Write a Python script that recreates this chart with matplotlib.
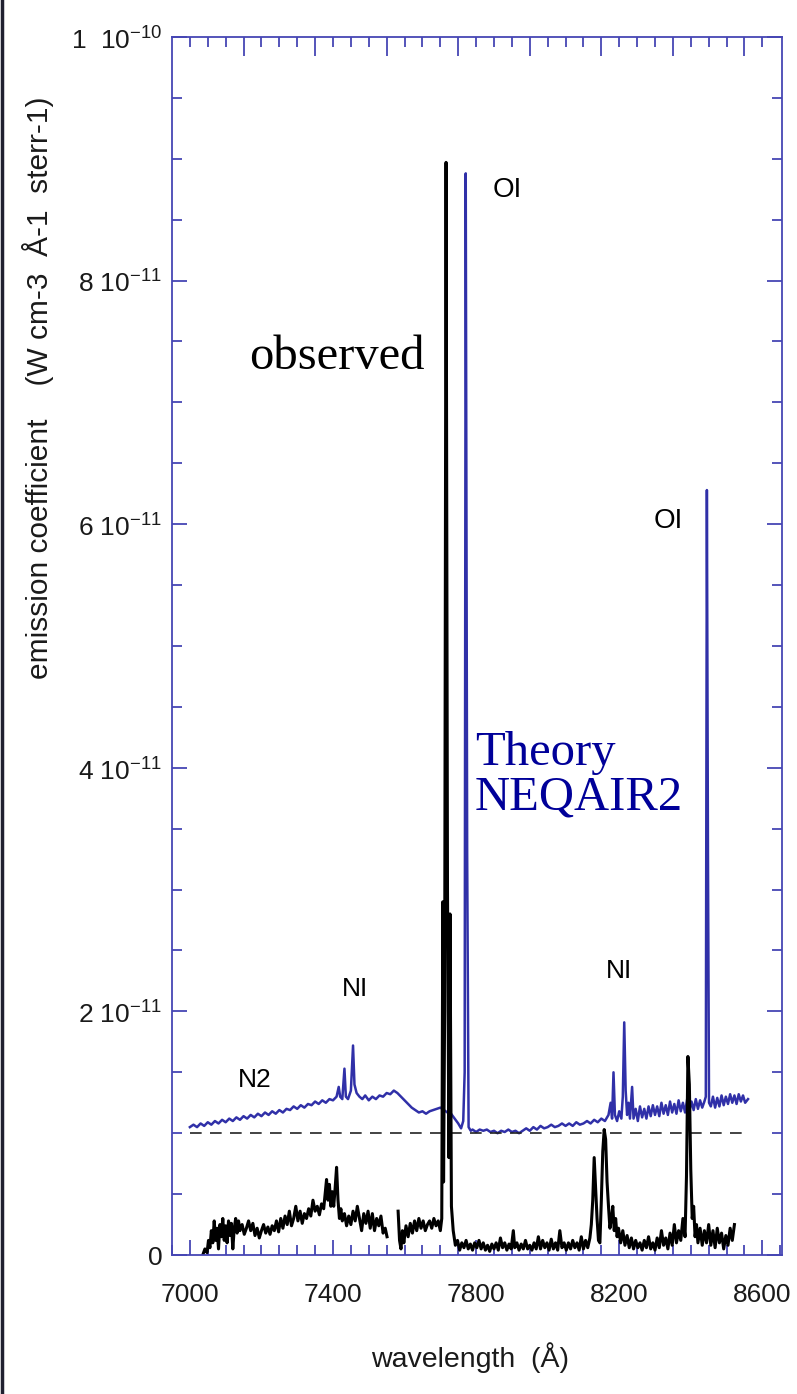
import numpy as np
import matplotlib
matplotlib.use("Agg")
import matplotlib.pyplot as plt
from matplotlib.lines import Line2D
from matplotlib.ticker import MultipleLocator, FixedLocator

plt.rcParams['font.family'] = ['Liberation Sans', 'DejaVu Sans']
plt.rcParams['mathtext.fontset'] = 'custom'
plt.rcParams['mathtext.rm'] = 'Liberation Sans'

SCALE = 1e-11  # all intensities below are in units of 1e-11 W cm-3 A-1 sterr-1

# observed spectrum, first piece (wavelength in A, intensity)
obs1_wl = [7036, 7042, 7048, 7052, 7056, 7060, 7064, 7068, 7072, 7076, 7080, 7084, 7088,
           7092, 7096, 7100, 7104, 7108, 7112, 7116, 7120, 7124, 7128, 7132, 7136, 7140,
           7146, 7152, 7158, 7164, 7170, 7176, 7182, 7188, 7194, 7200, 7206, 7212, 7218,
           7224, 7230, 7236, 7242, 7248, 7254, 7260, 7266, 7272, 7278, 7284, 7290, 7296,
           7302, 7308, 7314, 7320, 7326, 7332, 7338, 7344, 7350, 7356, 7362, 7368, 7374,
           7378, 7382, 7386, 7390, 7394, 7398, 7402, 7406, 7410, 7414, 7418, 7422, 7426,
           7432, 7438, 7444, 7450, 7456, 7462, 7468, 7474, 7480, 7486, 7492, 7498, 7504,
           7510, 7516, 7522, 7528, 7534, 7540, 7546, 7551]
obs1_val = [0.00, 0.05, 0.02, 0.12, 0.06, 0.20, 0.10, 0.28, 0.12, 0.22, 0.05, 0.25, 0.15,
            0.30, 0.12, 0.24, 0.10, 0.28, 0.16, 0.26, 0.05, 0.22, 0.30, 0.18, 0.28, 0.20,
            0.25, 0.17, 0.22, 0.28, 0.20, 0.26, 0.16, 0.22, 0.14, 0.20, 0.25, 0.18, 0.23,
            0.17, 0.24, 0.20, 0.28, 0.19, 0.30, 0.22, 0.32, 0.25, 0.36, 0.24, 0.30, 0.40,
            0.28, 0.36, 0.26, 0.34, 0.30, 0.38, 0.32, 0.45, 0.36, 0.40, 0.33, 0.42, 0.38,
            0.50, 0.62, 0.45, 0.58, 0.40, 0.52, 0.40, 0.55, 0.72, 0.45, 0.30, 0.38, 0.28,
            0.34, 0.24, 0.32, 0.25, 0.36, 0.28, 0.40, 0.30, 0.20, 0.34, 0.26, 0.36, 0.22,
            0.34, 0.20, 0.30, 0.24, 0.32, 0.18, 0.22, 0.15]

# observed spectrum, second piece
obs2_wl = [7582, 7586, 7590, 7594, 7598, 7604, 7610, 7616, 7622, 7628, 7634, 7640, 7646,
           7652, 7658, 7664, 7670, 7676, 7682, 7688, 7694, 7700, 7704, 7707, 7709, 7712,
           7716, 7720, 7724, 7727, 7731, 7736, 7742, 7748, 7754, 7760, 7766, 7772, 7778,
           7784, 7790, 7796, 7802, 7808, 7814, 7820, 7826, 7832, 7838, 7844, 7850, 7856,
           7862, 7868, 7874, 7880, 7886, 7892, 7898, 7904, 7908, 7914, 7920, 7926, 7932,
           7938, 7944, 7950, 7956, 7962, 7968, 7974, 7980, 7986, 7992, 7998, 8004, 8010,
           8016, 8022, 8028, 8034, 8040, 8046, 8052, 8058, 8064, 8070, 8076, 8082, 8088,
           8094, 8100, 8106, 8112, 8118, 8122, 8126, 8130, 8134, 8138, 8142, 8146, 8150,
           8154, 8158, 8162, 8166, 8170, 8174, 8178, 8182, 8186, 8190, 8194, 8198, 8204,
           8210, 8216, 8222, 8228, 8234, 8240, 8246, 8252, 8258, 8264, 8270, 8276, 8282,
           8288, 8294, 8300, 8306, 8312, 8318, 8324, 8330, 8336, 8342, 8348, 8354, 8360,
           8366, 8372, 8378, 8384, 8388, 8392, 8396, 8400, 8404, 8408, 8412, 8416, 8420,
           8426, 8432, 8438, 8444, 8450, 8456, 8462, 8468, 8474, 8480, 8486, 8492, 8498,
           8504, 8510, 8516, 8522]
obs2_val = [0.36, 0.12, 0.05, 0.20, 0.10, 0.24, 0.15, 0.26, 0.18, 0.28, 0.20, 0.30, 0.22,
            0.28, 0.20, 0.25, 0.28, 0.22, 0.30, 0.24, 0.28, 0.20, 0.30, 2.90, 0.60, 2.00,
            8.97, 3.00, 0.80, 2.80, 0.40, 0.20, 0.08, 0.12, 0.04, 0.10, 0.06, 0.12, 0.05,
            0.09, 0.04, 0.10, 0.06, 0.12, 0.05, 0.10, 0.04, 0.08, 0.03, 0.09, 0.05, 0.10,
            0.04, 0.14, 0.06, 0.10, 0.04, 0.09, 0.05, 0.20, 0.06, 0.10, 0.04, 0.09, 0.05,
            0.12, 0.05, 0.08, 0.04, 0.10, 0.05, 0.15, 0.05, 0.12, 0.06, 0.10, 0.04, 0.13,
            0.05, 0.10, 0.04, 0.20, 0.06, 0.10, 0.04, 0.10, 0.05, 0.12, 0.06, 0.10, 0.04,
            0.15, 0.05, 0.12, 0.06, 0.14, 0.25, 0.45, 0.80, 0.55, 0.30, 0.12, 0.10, 0.45,
            0.85, 1.03, 0.95, 0.60, 0.40, 0.22, 0.30, 0.40, 0.20, 0.30, 0.15, 0.22, 0.10,
            0.20, 0.08, 0.16, 0.06, 0.14, 0.05, 0.12, 0.06, 0.10, 0.04, 0.12, 0.06, 0.15,
            0.05, 0.10, 0.04, 0.14, 0.06, 0.20, 0.08, 0.14, 0.05, 0.18, 0.08, 0.25, 0.10,
            0.20, 0.12, 0.30, 0.15, 0.65, 1.63, 1.40, 0.70, 0.30, 0.40, 0.15, 0.25, 0.10,
            0.22, 0.08, 0.20, 0.10, 0.25, 0.08, 0.20, 0.06, 0.22, 0.10, 0.18, 0.05, 0.16,
            0.08, 0.22, 0.12, 0.25]

# NEQAIR2 theory, offset by 1e-11
theo_wl = [7000, 7010, 7020, 7030, 7040, 7050, 7060, 7070, 7080, 7090, 7100, 7110, 7120,
           7130, 7140, 7150, 7160, 7170, 7180, 7190, 7200, 7210, 7220, 7230, 7240, 7250,
           7260, 7270, 7280, 7290, 7300, 7310, 7320, 7330, 7340, 7350, 7360, 7370, 7380,
           7390, 7400, 7410, 7416, 7420, 7426, 7432, 7436, 7442, 7450, 7456, 7460, 7466,
           7474, 7482, 7490, 7500, 7510, 7520, 7530, 7540, 7550, 7560, 7570, 7580, 7590,
           7600, 7610, 7620, 7630, 7640, 7650, 7660, 7670, 7680, 7690, 7700, 7710, 7720,
           7730, 7740, 7750, 7758, 7764, 7768, 7771, 7775, 7779, 7785, 7790, 7800, 7810,
           7820, 7830, 7840, 7850, 7860, 7870, 7880, 7890, 7900, 7910, 7920, 7930, 7940,
           7950, 7960, 7970, 7980, 7990, 8000, 8010, 8020, 8030, 8040, 8050, 8060, 8070,
           8080, 8090, 8100, 8110, 8120, 8130, 8140, 8150, 8160, 8170, 8176, 8180, 8184,
           8188, 8194, 8200, 8206, 8210, 8214, 8218, 8222, 8226, 8230, 8236, 8240, 8246,
           8252, 8258, 8264, 8270, 8276, 8282, 8288, 8294, 8300, 8306, 8312, 8318, 8324,
           8330, 8336, 8342, 8348, 8354, 8360, 8366, 8372, 8378, 8384, 8390, 8396, 8402,
           8408, 8414, 8420, 8426, 8432, 8438, 8442, 8445, 8448, 8451, 8456, 8462, 8468,
           8474, 8480, 8486, 8492, 8498, 8504, 8510, 8516, 8522, 8528, 8534, 8540, 8546,
           8552, 8560]
theo_val = [1.05, 1.07, 1.05, 1.08, 1.06, 1.09, 1.07, 1.10, 1.08, 1.11, 1.09, 1.12, 1.10,
            1.13, 1.11, 1.14, 1.12, 1.15, 1.13, 1.16, 1.14, 1.17, 1.15, 1.18, 1.16, 1.19,
            1.17, 1.20, 1.19, 1.22, 1.20, 1.23, 1.21, 1.24, 1.23, 1.26, 1.24, 1.27, 1.25,
            1.28, 1.27, 1.30, 1.38, 1.30, 1.28, 1.53, 1.30, 1.28, 1.35, 1.72, 1.40, 1.33,
            1.30, 1.28, 1.31, 1.27, 1.30, 1.28, 1.31, 1.30, 1.33, 1.32, 1.35, 1.33, 1.30,
            1.27, 1.24, 1.21, 1.19, 1.17, 1.18, 1.16, 1.18, 1.19, 1.20, 1.21, 1.19, 1.17,
            1.16, 1.12, 1.08, 1.04, 1.10, 1.50, 8.88, 3.30, 1.05, 1.02, 1.03, 1.01, 1.03,
            1.02, 1.03, 1.01, 1.02, 1.00, 1.02, 1.01, 1.03, 1.01, 1.02, 1.00, 1.02, 1.04,
            1.02, 1.05, 1.03, 1.06, 1.04, 1.05, 1.07, 1.05, 1.06, 1.08, 1.06, 1.08, 1.06,
            1.09, 1.07, 1.08, 1.10, 1.08, 1.11, 1.09, 1.12, 1.10, 1.15, 1.25, 1.12, 1.50,
            1.15, 1.10, 1.18, 1.12, 1.30, 1.91, 1.35, 1.15, 1.25, 1.12, 1.38, 1.12, 1.20,
            1.10, 1.22, 1.13, 1.20, 1.12, 1.22, 1.14, 1.23, 1.15, 1.22, 1.14, 1.25, 1.16,
            1.23, 1.15, 1.26, 1.17, 1.24, 1.16, 1.27, 1.18, 1.25, 1.17, 1.28, 1.18, 1.26,
            1.19, 1.28, 1.20, 1.27, 1.21, 1.26, 1.30, 6.28, 3.30, 1.25, 1.22, 1.30, 1.21,
            1.29, 1.22, 1.31, 1.23, 1.30, 1.24, 1.32, 1.25, 1.31, 1.24, 1.32, 1.26, 1.31,
            1.25, 1.28]

offset_wl = [7000, 8566]
offset_val = [1.0, 1.0]

ytick_vals = [0, 2, 4, 6, 8, 10]
ytick_labels = ["0", r"2 10$^{\mathregular{-11}}$", r"4 10$^{\mathregular{-11}}$",
                r"6 10$^{\mathregular{-11}}$", r"8 10$^{\mathregular{-11}}$",
                r"1  10$^{\mathregular{-10}}$"]
xtick_vals = [7000, 7400, 7800, 8200, 8600]

AXCOL = '#4646b4'
BLUE = '#3030a8'

fig = plt.figure(figsize=(7.97, 13.94), dpi=100)
ax = fig.add_axes([0.2158, 0.0997, 0.7654, 0.8738])

ax.plot(theo_wl, np.array(theo_val) * SCALE, color=BLUE, lw=1.8)
ax.plot(offset_wl, np.array(offset_val) * SCALE, color='#222222', lw=1.2, ls=(0, (7, 5)))
ax.plot(obs1_wl, np.array(obs1_val) * SCALE, color='black', lw=2.2)
ax.plot(obs2_wl, np.array(obs2_val) * SCALE, color='black', lw=2.2)

ax.set_xlim(6950, 8655)
ax.set_ylim(0, 1e-10)

for s in ax.spines.values():
    s.set_color(AXCOL)
    s.set_linewidth(1.3)

ax.set_yticks([v * SCALE for v in ytick_vals])
ax.set_yticklabels(ytick_labels)
ax.yaxis.set_minor_locator(MultipleLocator(0.5 * SCALE))
ax.set_xticks(xtick_vals)
ax.xaxis.set_minor_locator(MultipleLocator(50))
ax.tick_params(which='both', direction='in', color=AXCOL, width=1.3,
               labelsize=19, right=True, labelcolor='#1a1a1a')
ax.tick_params(which='major', length=11)
ax.tick_params(which='minor', length=7)
ax.tick_params(axis='x', pad=20)
ax.tick_params(axis='y', pad=7)

top = ax.secondary_xaxis('top')
top.set_xticks(list(range(7150, 8600, 200)))
top.xaxis.set_minor_locator(FixedLocator(list(range(7000, 8650, 50))))
top.tick_params(which='both', direction='in', color=AXCOL, width=1.3, labeltop=False)
top.tick_params(which='major', length=14)
top.tick_params(which='minor', length=7)
for s in top.spines.values():
    s.set_visible(False)

# line labels
ax.text(7887, 8.74 * SCALE, "OI", fontsize=20, ha='center', va='center')
ax.text(8337, 6.03 * SCALE, "OI", fontsize=20, ha='center', va='center')
ax.text(7462, 2.18 * SCALE, "NI", fontsize=19, ha='center', va='center')
ax.text(8200, 2.33 * SCALE, "NI", fontsize=19, ha='center', va='center')
ax.text(7182, 1.44 * SCALE, "N2", fontsize=19, ha='center', va='center')

ax.text(7657, 7.37 * SCALE, "observed", fontsize=35, family='Liberation Serif',
        ha='right', va='center', color='black')
ax.text(7797, 3.94 * SCALE, "Theory\nNEQAIR2", fontsize=35, family='Liberation Serif',
        ha='left', va='center', color='#000099', linespacing=1.0)

fig.text(470 / 797, 1 - 1358 / 1394, "wavelength  (Å)", fontsize=20.5,
         ha='center', va='center', color='#1a1a1a')
fig.text(38 / 797, 1 - 388 / 1394, "emission coefficient    (W cm-3  Å-1  sterr-1)",
         fontsize=21.5, rotation=90, ha='center', va='center', color='#1a1a1a')

# dark frame line on the left edge
fig.add_artist(Line2D([2 / 797, 2 / 797], [0, 1], transform=fig.transFigure,
                      color='#202030', lw=2.5))

fig.savefig("out.png", dpi=100)
